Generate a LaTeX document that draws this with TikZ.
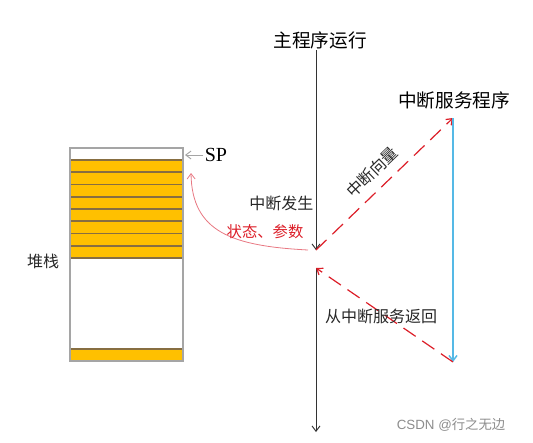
\documentclass[tikz,border=0pt]{standalone}
\usepackage{fontspec}
\setmainfont{Liberation Serif}
\newfontfamily\cjk{Noto Sans CJK SC}
\newfontfamily\wmfont{Liberation Sans}
\usepackage{tikz}
\usetikzlibrary{arrows.meta}

\definecolor{stackorange}{RGB}{255,192,0}
\definecolor{rowline}{RGB}{135,110,65}
\definecolor{stackedge}{RGB}{165,165,165}
\definecolor{vecred}{RGB}{220,30,40}
\definecolor{isrblue}{RGB}{85,185,230}
\definecolor{curvered}{RGB}{232,120,130}

\begin{document}
\begin{tikzpicture}[x=0.75pt,y=-0.75pt]
\tikzstyle{every node}=[inner sep=1pt];
\tikzstyle{title}=[font=\cjk\fontsize{14}{16}\selectfont];
\tikzstyle{note}=[font=\cjk\fontsize{12}{14}\selectfont,text=black!85];
\tikzstyle{flow}=[black!80,line width=0.7pt,-{Straight Barb[length=4pt,width=6pt]}];
\tikzstyle{vector}=[vecred,line width=0.9pt,dash pattern=on 11pt off 6pt,-{Straight Barb[length=4pt,width=6pt]}];
\useasboundingbox (0,0) rectangle (533,443);
% stack
\fill[stackorange] (70,160) rectangle (183,258);
\fill[stackorange] (70,349) rectangle (183,361);
\foreach \i in {0,...,8}
  \draw[rowline,line width=1.3pt] (70,160+12.25*\i) -- (183,160+12.25*\i);
\draw[rowline,line width=1.1pt] (70,349) -- (183,349);
\draw[stackedge,line width=0.9pt] (70,148) rectangle (183,361);
\path (43,261) node[note] (stack) {堆栈};
\path (216,155) node[font=\fontsize{15}{17}\selectfont] (sp) {SP};
\coordinate (sptop) at (185,155);
\coordinate (saved) at (191,173);
\draw[stackedge,line width=0.7pt,-{Straight Barb[length=4pt,width=6pt]}] (sp.west) -- (sptop);
% main program and interrupt service
\path (320,40) node[title] (main) {主程序运行};
\path (454,100) node[title] (isr) {中断服务程序};
\coordinate (occur) at (316,250);
\coordinate (back) at (316,268);
\coordinate (mainend) at (316,432);
\coordinate (isrtop) at (453,118);
\coordinate (isrbot) at (453,362);
\draw[flow] (occur |- main.south) -- (occur);
\draw[flow] (back) -- (mainend);
\draw[vector] (occur) -- (isrtop);
\draw[isrblue,line width=1.1pt,-{Straight Barb[length=4pt,width=6pt]}] (isrtop) -- (isrbot);
\draw[vector] (isrbot) -- (back);
\draw[curvered,line width=0.6pt,-{Straight Barb[length=4pt,width=6pt]}] (308,250) .. controls (232,246) and (192,232) .. (saved);
% labels
\path (315,203) node[note,anchor=east] (occurtext) {中断发生};
\path (265,232) node[note,text=vecred,font=\cjk\fontsize{11.5}{13}\selectfont] (state) {状态、参数};
\path (372,172) node[note,rotate=44] (vectext) {中断向量};
\path (381,316) node[note] (backtext) {从中断服务返回};
\path (451,425) node[text=black!45,font=\wmfont\fontsize{10}{12}\selectfont] (mark) {CSDN @{\cjk 行之无边}};
\end{tikzpicture}
\end{document}
